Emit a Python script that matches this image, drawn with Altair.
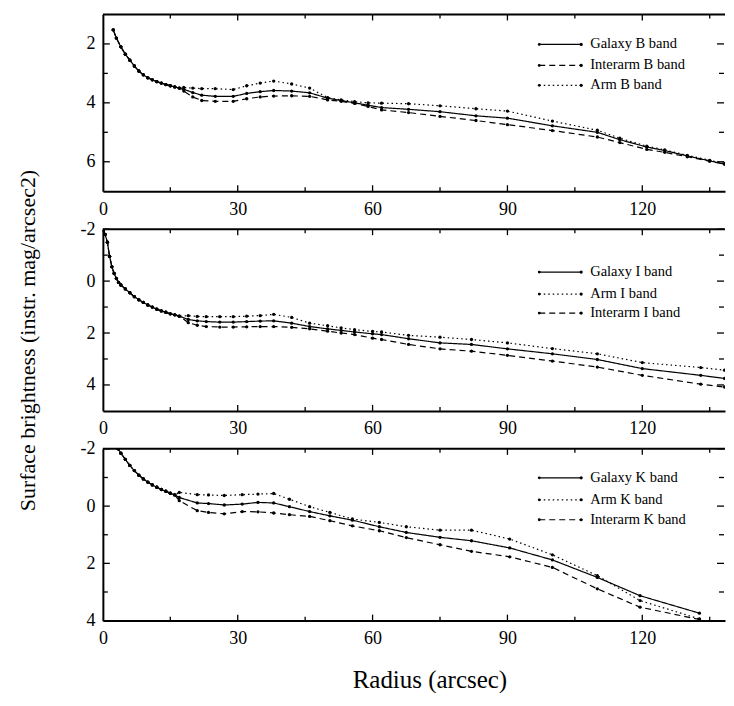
import altair as alt
import pandas as pd

FONT = "Liberation Serif"

# ---------------- data ----------------
# tick positions
x_labels = [0, 30, 60, 90, 120]
x_major = [30, 60, 90, 120]
x_minor = [15, 45, 75, 105, 135]

# ---- B band ----
B_inner_r = [2.3, 3, 4, 5, 6, 7, 8, 9, 10, 11, 12, 13, 14, 15, 16, 17]
B_inner_v = [1.52, 1.8, 2.1, 2.35, 2.55, 2.75, 2.92, 3.05, 3.15, 3.22, 3.28, 3.33, 3.38, 3.42, 3.46, 3.5]
B_r = [18, 20, 22, 25, 29, 32, 35, 38, 42, 46, 50, 53, 56, 59, 62, 68, 75, 83, 90, 100, 110, 115, 121, 125, 130, 135, 138.3]
galaxy_B = [3.54, 3.65, 3.74, 3.78, 3.78, 3.68, 3.62, 3.58, 3.6, 3.66, 3.84, 3.92, 4.0, 4.08, 4.16, 4.22, 4.3, 4.44, 4.52, 4.78, 5.0, 5.25, 5.5, 5.62, 5.8, 5.97, 6.08]
interarm_B = [3.6, 3.8, 3.92, 3.95, 3.95, 3.86, 3.8, 3.77, 3.76, 3.78, 3.9, 3.95, 4.02, 4.12, 4.24, 4.33, 4.46, 4.6, 4.74, 4.94, 5.16, 5.35, 5.58, 5.68, 5.83, 5.98, 6.08]
arm_B = [3.48, 3.5, 3.52, 3.52, 3.55, 3.42, 3.33, 3.26, 3.36, 3.5, 3.82, 3.9, 3.96, 4.0, 4.01, 4.03, 4.1, 4.2, 4.28, 4.62, 4.93, 5.2, 5.47, 5.6, 5.78, 5.95, 6.06]
B_yticks = [2, 4, 6]
B_yminor = [3, 5]

# ---- I band ----
I_inner_r = [0.1, 0.5, 1, 1.5, 2, 2.5, 3, 3.5, 4, 5, 6, 7, 8, 9, 10, 11, 12, 13, 14, 15, 16, 17]
I_inner_v = [-1.94, -1.8, -1.5, -0.95, -0.55, -0.3, -0.1, 0.05, 0.15, 0.3, 0.45, 0.6, 0.72, 0.82, 0.92, 1.0, 1.08, 1.15, 1.2, 1.26, 1.3, 1.35]
I_r = [19, 21, 23, 26, 29, 32, 35, 38, 42, 46, 50, 53, 56, 60, 62, 68, 75, 82, 90, 100, 110, 120, 133, 138.3]
galaxy_I = [1.48, 1.53, 1.56, 1.58, 1.58, 1.56, 1.54, 1.53, 1.62, 1.75, 1.84, 1.9, 1.96, 2.03, 2.06, 2.22, 2.38, 2.44, 2.61, 2.8, 3.02, 3.37, 3.63, 3.75]
interarm_I = [1.6, 1.7, 1.75, 1.77, 1.77, 1.76, 1.75, 1.75, 1.78, 1.84, 1.93, 2.0, 2.06, 2.2, 2.25, 2.44, 2.61, 2.7, 2.86, 3.08, 3.31, 3.63, 3.97, 4.08]
arm_I = [1.33, 1.36, 1.37, 1.37, 1.37, 1.35, 1.33, 1.28, 1.4, 1.62, 1.72, 1.8, 1.87, 1.94, 1.96, 2.09, 2.16, 2.25, 2.38, 2.6, 2.8, 3.14, 3.33, 3.43]
I_yticks = [-2, 0, 2, 4]
I_yminor = [-1, 1, 3]

# ---- K band ----
K_inner_r = [3.0, 3.4, 4, 5, 6, 7, 8, 9, 10, 11, 12, 13, 14, 15, 16]
K_inner_v = [-2.12, -2.0, -1.85, -1.63, -1.42, -1.24, -1.08, -0.95, -0.84, -0.74, -0.66, -0.58, -0.52, -0.45, -0.39]
K_r = [17, 21, 23.5, 27, 31, 34.5, 38, 41.5, 46, 50.5, 55.5, 61.5, 67.5, 75, 82, 90.5, 100, 110, 119.5, 132.7]
galaxy_K = [-0.30, -0.11, -0.09, -0.04, -0.07, -0.13, -0.11, 0.02, 0.19, 0.34, 0.49, 0.72, 0.92, 1.09, 1.21, 1.46, 1.88, 2.49, 3.13, 3.74]
arm_K = [-0.48, -0.40, -0.39, -0.37, -0.40, -0.42, -0.44, -0.24, 0.02, 0.22, 0.45, 0.57, 0.72, 0.84, 0.84, 1.15, 1.70, 2.43, 3.30, 3.94]
interarm_K = [-0.19, 0.16, 0.22, 0.27, 0.19, 0.2, 0.24, 0.30, 0.36, 0.51, 0.69, 0.86, 1.10, 1.35, 1.58, 1.77, 2.14, 2.89, 3.53, 3.96]
K_yticks = [-2, 0, 2, 4]
K_yminor = [-1, 1, 3]

# ---------------- styles ----------------
W = 623
XDOM = [0, 138.4]
SOLID = [1, 0]
DASH = [6, 4]
DOT = [1.5, 3]
LEG_X0, LEG_X1, LEG_TX = 437, 479, 488


def make_panel(inner_r, inner_v, series, ydom, ylab, yminor, H, leg_y,
               xtitle=None, ytitle=None):
    xs = alt.Scale(domain=XDOM, nice=False, zero=False)
    ys = alt.Scale(domain=ydom, reverse=True, nice=False, zero=False)

    xaxis_kw = dict(values=x_labels, labelExpr="'' + datum.value")
    if xtitle:
        xaxis = alt.Axis(title=xtitle, titleX=327, titleY=67,
                         titleAlign="center", titleBaseline="alphabetic",
                         titleFontSize=25, **xaxis_kw)
    else:
        xaxis = alt.Axis(title=None, **xaxis_kw)

    yaxis_kw = dict(values=ylab, labelExpr="'' + datum.value")
    if ytitle:
        yaxis = alt.Axis(title=ytitle, titleAngle=270, titleX=-68, titleY=111,
                         titleAlign="center", titleBaseline="alphabetic",
                         titleFontSize=22, **yaxis_kw)
    else:
        yaxis = alt.Axis(title=None, **yaxis_kw)

    layers = []
    first = True
    for name, rr, vv, dash in series:
        df = pd.DataFrame({"r": inner_r + rr, "v": inner_v + vv})
        base = alt.Chart(df)
        if first:
            enc_x = alt.X("r:Q", scale=xs, axis=xaxis)
            enc_y = alt.Y("v:Q", scale=ys, axis=yaxis)
            first = False
        else:
            enc_x = alt.X("r:Q", scale=xs)
            enc_y = alt.Y("v:Q", scale=ys)
        layers.append(base.mark_line(color="black", strokeWidth=1.2, strokeDash=dash,
                                     clip=True).encode(x=enc_x, y=enc_y))
        layers.append(base.mark_point(filled=True, color="black", size=11, opacity=1,
                                      clip=True).encode(x=alt.X("r:Q", scale=xs),
                                                        y=alt.Y("v:Q", scale=ys)))

    # inward ticks (field names match the main layer so the axes merge)
    xmaj = alt.Chart(pd.DataFrame({"r": x_major}))
    xmin = alt.Chart(pd.DataFrame({"r": x_minor}))
    for src, ln in ((xmaj, 6), (xmin, 4)):
        layers.append(src.mark_rule(color="black", strokeWidth=1.3).encode(
            x=alt.X("r:Q", scale=xs), y=alt.value(0), y2=alt.value(ln)))
        layers.append(src.mark_rule(color="black", strokeWidth=1.3).encode(
            x=alt.X("r:Q", scale=xs), y=alt.value(H), y2=alt.value(H - ln)))
    ymaj = alt.Chart(pd.DataFrame({"v": ylab}))
    ymin = alt.Chart(pd.DataFrame({"v": yminor}))
    for src, ln in ((ymaj, 7), (ymin, 5)):
        layers.append(src.mark_rule(color="black", strokeWidth=1.3).encode(
            y=alt.Y("v:Q", scale=ys), x=alt.value(0), x2=alt.value(ln)))
        layers.append(src.mark_rule(color="black", strokeWidth=1.3).encode(
            y=alt.Y("v:Q", scale=ys), x=alt.value(W - 1), x2=alt.value(W - 1 - ln)))

    # top frame line
    layers.append(alt.Chart(pd.DataFrame({"a": [0]})).mark_rule(color="black", strokeWidth=2).encode(
        x=alt.value(0), x2=alt.value(W), y=alt.value(0)))

    # manual legend
    for (name, _, _, dash), ly in zip(series, leg_y):
        ld = alt.Chart(pd.DataFrame({"label": [name]}))
        layers.append(ld.mark_rule(color="black", strokeWidth=1.2, strokeDash=dash).encode(
            x=alt.value(LEG_X0), x2=alt.value(LEG_X1), y=alt.value(ly)))
        layers.append(ld.mark_point(filled=True, color="black", size=8, opacity=1).encode(
            x=alt.value(LEG_X0), y=alt.value(ly)))
        layers.append(ld.mark_point(filled=True, color="black", size=10, opacity=1).encode(
            x=alt.value(LEG_X1), y=alt.value(ly)))
        layers.append(ld.mark_text(font=FONT, fontSize=14.5, color="black", align="left",
                                   baseline="middle").encode(
            x=alt.value(LEG_TX), y=alt.value(ly), text="label:N"))

    return alt.layer(*layers).properties(width=W, height=H)


p1 = make_panel(B_inner_r, B_inner_v,
                [("Galaxy B band", B_r, galaxy_B, SOLID),
                 ("Interarm B band", B_r, interarm_B, DASH),
                 ("Arm B band", B_r, arm_B, DOT)],
                [1, 7], B_yticks, B_yminor, 177, [30, 51, 71])
p2 = make_panel(I_inner_r, I_inner_v,
                [("Galaxy I band", I_r, galaxy_I, SOLID),
                 ("Arm I band", I_r, arm_I, DOT),
                 ("Interarm I band", I_r, interarm_I, DASH)],
                [-2, 5], I_yticks, I_yminor, 182, [43, 65, 84],
                ytitle="Surface brightness (instr. mag/arcsec2)")
p3 = make_panel(K_inner_r, K_inner_v,
                [("Galaxy K band", K_r, galaxy_K, SOLID),
                 ("Arm K band", K_r, arm_K, DOT),
                 ("Interarm K band", K_r, interarm_K, DASH)],
                [-2, 4], K_yticks, K_yminor, 172, [29, 51, 71],
                xtitle="Radius (arcsec)")

chart = alt.vconcat(p1, p2, p3, spacing=38, bounds="flush").properties(
    padding={"left": 8, "top": 5, "right": 0, "bottom": 0},
    background="white",
).configure_view(
    stroke=None
).configure_axis(
    labelFont=FONT, labelFontSize=18, labelColor="black", labelFlush=False,
    titleFont=FONT, titleFontWeight="normal", titleColor="black",
    ticks=False, tickSize=0, grid=False,
    domainColor="black", domainWidth=2,
).configure_axisX(
    labelPadding=9
).configure_axisY(
    labelPadding=8
).configure_text(font=FONT)

chart.save("out.html", embed_options={"renderer": "svg", "actions": False})
